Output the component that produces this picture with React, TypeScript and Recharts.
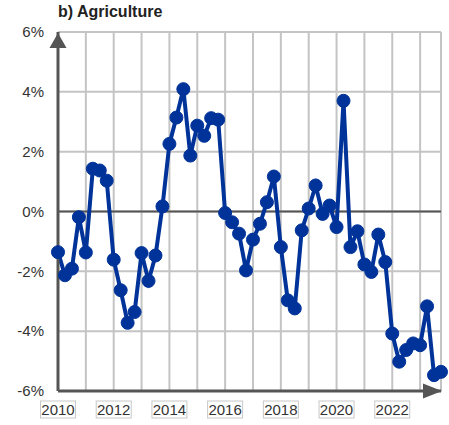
import {
  LineChart,
  Line,
  XAxis,
  YAxis,
  CartesianGrid,
  ReferenceLine,
  ReferenceDot,
} from 'recharts';

const years = [2010, 2011, 2012, 2013, 2014, 2015, 2016, 2017, 2018, 2019, 2020, 2021, 2022, 2023];

// quarterly growth, %, one row per year (Q1..Q4)
const quarterlyGrowth = [
  [-1.36, -2.13, -1.91, -0.19],
  [-1.37, 1.43, 1.37, 1.03],
  [-1.61, -2.63, -3.72, -3.36],
  [-1.39, -2.32, -1.47, 0.17],
  [2.26, 3.14, 4.09, 1.87],
  [2.87, 2.53, 3.12, 3.07],
  [-0.05, -0.36, -0.74, -1.97],
  [-0.94, -0.41, 0.31, 1.17],
  [-1.19, -2.97, -3.24, -0.63],
  [0.1, 0.87, -0.08, 0.2],
  [-0.52, 3.7, -1.19, -0.66],
  [-1.77, -2.02, -0.77, -1.69],
  [-4.08, -5.02, -4.63, -4.41],
  [-4.47, -3.17, -5.47, -5.36],
];

const yTicks = [-6, -4, -2, 0, 2, 4, 6];
const labelledYears = [2010, 2012, 2014, 2016, 2018, 2020, 2022];

const data = years.flatMap((year, i) =>
  quarterlyGrowth[i].map((value, q) => ({ t: year + q / 4, value }))
);

const lastT = data[data.length - 1].t;
const axisColor = '#555';
const textColor = '#333';

const YearTick = ({ x, y, payload }: any) => {
  if (!labelledYears.includes(payload.value)) return null;
  return (
    <g>
      <rect x={x - 17.5} y={y} width={35} height={17} fill="#fff" stroke="#c8c8c8" strokeWidth={1} />
      <text x={x} y={y + 14} textAnchor="middle" fontSize={15} fill={textColor}>
        {payload.value}
      </text>
    </g>
  );
};

const ArrowUp = ({ cx, cy }: any) => (
  <polygon points={`${cx},${cy + 1} ${cx - 8.5},${cy + 16} ${cx + 8.5},${cy + 16}`} fill={axisColor} />
);

const ArrowRight = ({ cx, cy }: any) => (
  <polygon points={`${cx + 1},${cy} ${cx - 18},${cy - 7.5} ${cx - 18},${cy + 7.5}`} fill={axisColor} />
);

export default function App() {
  return (
    <div
      style={{
        position: 'absolute',
        left: 0,
        top: 0,
        width: 449,
        height: 425,
        background: '#fff',
        fontFamily: '"Liberation Sans", Arial, sans-serif',
      }}
    >
      <div
        style={{
          position: 'absolute',
          left: 58,
          top: 3,
          fontSize: 16,
          lineHeight: '18px',
          fontWeight: 'bold',
          color: '#222',
        }}
      >
        b) Agriculture
      </div>
      <LineChart width={449} height={425} data={data} margin={{ top: 32, right: 8, bottom: 4, left: 8 }}>
        <CartesianGrid stroke="#c4c4c4" strokeWidth={2} />
        <XAxis
          dataKey="t"
          type="number"
          domain={[2010, lastT]}
          ticks={years}
          interval={0}
          height={30}
          tickSize={0}
          tickMargin={10}
          tick={<YearTick />}
          axisLine={{ stroke: axisColor, strokeWidth: 3 }}
        />
        <YAxis
          domain={[-6, 6]}
          ticks={yTicks}
          width={50}
          tickSize={0}
          tickMargin={14}
          tickFormatter={(v) => `${v}%`}
          tick={{ fontSize: 15, fill: textColor }}
          axisLine={{ stroke: axisColor, strokeWidth: 3 }}
        />
        <ReferenceLine y={0} stroke={axisColor} strokeWidth={2} />
        <ReferenceDot x={2010} y={6} r={0} shape={<ArrowUp />} ifOverflow="visible" />
        <ReferenceDot x={lastT} y={-6} r={0} shape={<ArrowRight />} ifOverflow="visible" />
        <Line
          dataKey="value"
          stroke="#003399"
          strokeWidth={4}
          dot={{ r: 6.5, fill: '#003399', stroke: '#003399', strokeWidth: 1 }}
          isAnimationActive={false}
        />
      </LineChart>
    </div>
  );
}
